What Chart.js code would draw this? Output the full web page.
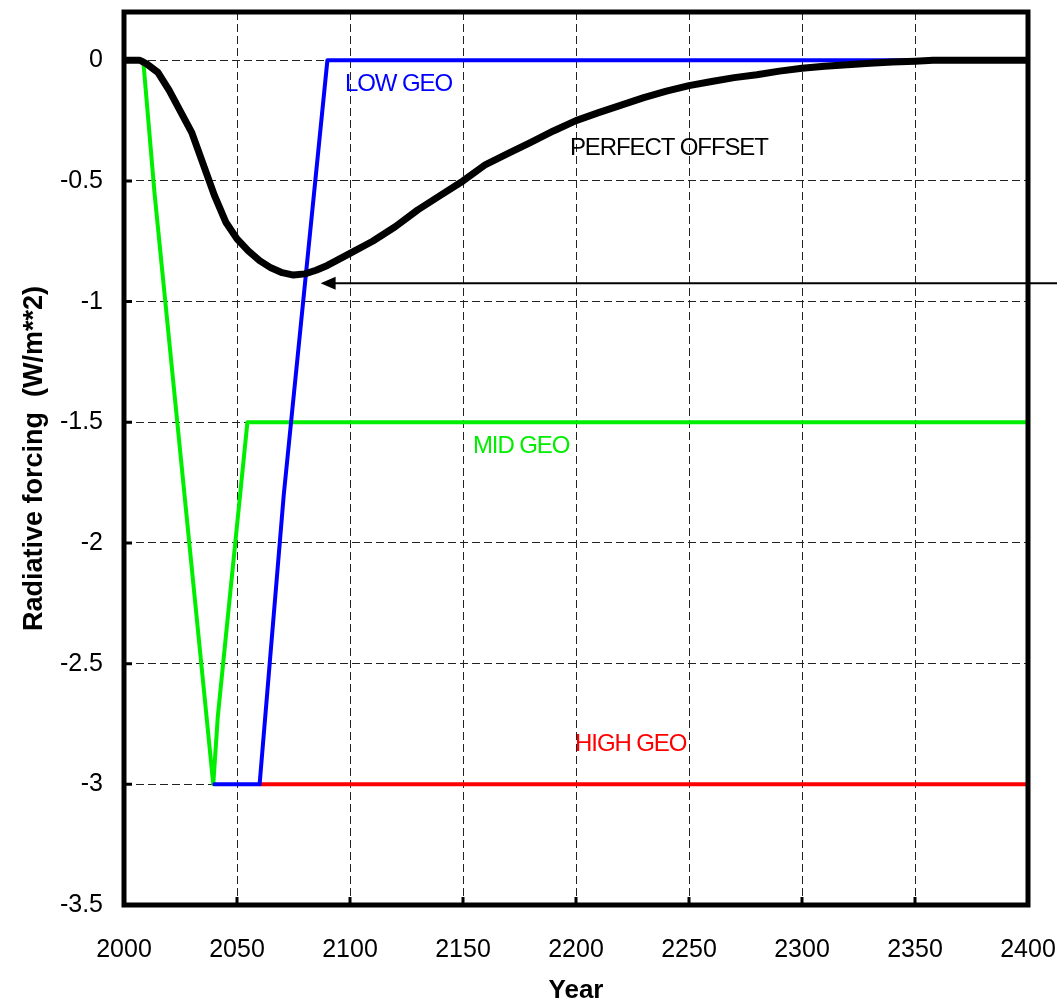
<!DOCTYPE html>
<html>
<head>
<meta charset="utf-8">
<script src="https://cdn.jsdelivr.net/npm/chart.js@4"></script>
<style>
  html, body { margin: 0; padding: 0; background: #fff; }
  canvas { display: block; }
</style>
</head>
<body>
<canvas id="forcing-chart" width="1057" height="1006"></canvas>
<script>
// axis ticks
const xTicks = [2000, 2050, 2100, 2150, 2200, 2250, 2300, 2350, 2400];
const yTicks = [0, -0.5, -1, -1.5, -2, -2.5, -3, -3.5];

// PERFECT OFFSET (black)
const perfectYears = [2000, 2007, 2010, 2015, 2020, 2030, 2040, 2045, 2050, 2055, 2060, 2065, 2070, 2075, 2080, 2085, 2090, 2100, 2110, 2120, 2130, 2140, 2150, 2160, 2170, 2180, 2190, 2200, 2210, 2220, 2230, 2240, 2250, 2260, 2270, 2280, 2290, 2300, 2310, 2320, 2330, 2340, 2350, 2358, 2400];
const perfectValues = [0, 0, -0.015, -0.05, -0.125, -0.30, -0.56, -0.67, -0.74, -0.79, -0.83, -0.86, -0.88, -0.89, -0.885, -0.87, -0.85, -0.80, -0.75, -0.69, -0.62, -0.56, -0.50, -0.432, -0.386, -0.34, -0.293, -0.25, -0.217, -0.186, -0.155, -0.128, -0.105, -0.088, -0.072, -0.06, -0.045, -0.033, -0.025, -0.019, -0.012, -0.007, -0.004, 0, 0];

// LOW GEO (blue)
const lowYears = [2040, 2060, 2070.7, 2090, 2400];
const lowValues = [-3, -3, -1.8, 0, 0];

// MID GEO (green)
const midYears = [2008.5, 2013.5, 2039.5, 2041.5, 2054.6, 2400];
const midValues = [0, -0.55, -3, -2.72, -1.5, -1.5];

// HIGH GEO (red)
const highYears = [2060, 2400];
const highValues = [-3, -3];

// series labels written inside the plot
const seriesLabels = ['LOW GEO', 'PERFECT OFFSET', 'MID GEO', 'HIGH GEO'];
const labelYears = [2097.8, 2197.3, 2154.4, 2199.6];
const labelValues = [-0.10, -0.363, -1.598, -2.834];
const labelColors = ['#0000ff', '#000000', '#00ee00', '#ff0000'];

// arrow pointing at the minimum
const arrowFromYear = 2413;
const arrowToYear = 2087;
const arrowValue = -0.924;

const FONT = "'Liberation Sans', Arial, Helvetica, sans-serif";

function points(xs, ys) {
    return xs.map((x, i) => ({ x: x, y: ys[i] }));
}

const overlay = {
    id: 'overlay',
    afterDatasetsDraw(chart) {
        const { ctx, chartArea: a, scales: { x, y } } = chart;
        ctx.save();

        // inward tick marks
        ctx.strokeStyle = '#000';
        ctx.lineWidth = 3;
        ctx.beginPath();
        xTicks.forEach(v => {
            const px = x.getPixelForValue(v);
            ctx.moveTo(px, a.bottom);
            ctx.lineTo(px, a.bottom - 8);
        });
        yTicks.forEach(v => {
            const py = y.getPixelForValue(v);
            ctx.moveTo(a.left, py);
            ctx.lineTo(a.left + 8, py);
        });
        ctx.stroke();

        // heavy frame round the plot
        ctx.lineWidth = 5;
        ctx.strokeRect(a.left, a.top, a.right - a.left, a.bottom - a.top);

        // series labels
        ctx.font = '24px ' + FONT;
        ctx.textBaseline = 'middle';
        ctx.textAlign = 'left';
        ctx.letterSpacing = '-1.1px';
        seriesLabels.forEach((t, i) => {
            ctx.fillStyle = labelColors[i];
            ctx.fillText(t, x.getPixelForValue(labelYears[i]), y.getPixelForValue(labelValues[i]));
        });

        // arrow
        const x0 = x.getPixelForValue(arrowFromYear);
        const x1 = x.getPixelForValue(arrowToYear);
        const ay = y.getPixelForValue(arrowValue);
        ctx.lineWidth = 2;
        ctx.beginPath();
        ctx.moveTo(x0, ay);
        ctx.lineTo(x1 + 12, ay);
        ctx.stroke();
        ctx.fillStyle = '#000';
        ctx.beginPath();
        ctx.moveTo(x1, ay);
        ctx.lineTo(x1 + 15, ay - 6.5);
        ctx.lineTo(x1 + 15, ay + 6.5);
        ctx.closePath();
        ctx.fill();

        ctx.restore();
    }
};

const ctx = document.getElementById('forcing-chart').getContext('2d');
const chart = new Chart(ctx, {
    type: 'line',
    data: {
        datasets: [
            { label: 'PERFECT OFFSET', data: points(perfectYears, perfectValues), borderColor: '#000000', borderWidth: 7 },
            { label: 'LOW GEO', data: points(lowYears, lowValues), borderColor: '#0000ff', borderWidth: 4 },
            { label: 'MID GEO', data: points(midYears, midValues), borderColor: '#00ee00', borderWidth: 4 },
            { label: 'HIGH GEO', data: points(highYears, highValues), borderColor: '#ff0000', borderWidth: 4 }
        ]
    },
    options: {
        responsive: false,
        animation: false,
        devicePixelRatio: 1,
        layout: { padding: { top: 12, right: 29, left: 0, bottom: 0 } },
        elements: {
            point: { radius: 0 },
            line: { tension: 0, fill: false, borderJoinStyle: 'round', borderCapStyle: 'round' }
        },
        scales: {
            x: {
                type: 'linear',
                min: 2000,
                max: 2400,
                afterBuildTicks: scale => { scale.ticks = xTicks.map(v => ({ value: v })); },
                afterFit: scale => {
                    scale.height = 101;
                    scale.paddingLeft = 0;
                    scale.paddingRight = 0;
                },
                grid: { color: '#222', lineWidth: 1, drawTicks: false },
                border: { display: false, dash: [8, 4] },
                ticks: {
                    color: '#000',
                    font: { family: FONT, size: 25 },
                    padding: 30,
                    maxRotation: 0,
                    callback: v => String(v)
                },
                title: {
                    display: true,
                    text: 'Year',
                    color: '#000',
                    font: { family: FONT, size: 26, weight: 'bold', lineHeight: 1.2 },
                    padding: { top: 0, bottom: 0 }
                }
            },
            y: {
                type: 'linear',
                min: -3.5,
                max: 0.2,
                afterBuildTicks: scale => { scale.ticks = yTicks.map(v => ({ value: v })); },
                afterFit: scale => {
                    scale.width = 124;
                    scale.paddingTop = 0;
                    scale.paddingBottom = 0;
                },
                grid: { color: '#222', lineWidth: 1, drawTicks: false },
                border: { display: false, dash: [8, 4] },
                ticks: {
                    color: '#000',
                    font: { family: FONT, size: 25 },
                    padding: 21,
                    callback: v => String(v)
                },
                title: {
                    display: true,
                    text: 'Radiative forcing  (W/m**2)',
                    color: '#000',
                    font: { family: FONT, size: 27, weight: 'bold', lineHeight: 1.2 },
                    padding: { top: 18, bottom: 0 }
                }
            }
        },
        plugins: {
            legend: { display: false },
            tooltip: { enabled: false }
        }
    },
    plugins: [overlay]
});
</script>
</body>
</html>
